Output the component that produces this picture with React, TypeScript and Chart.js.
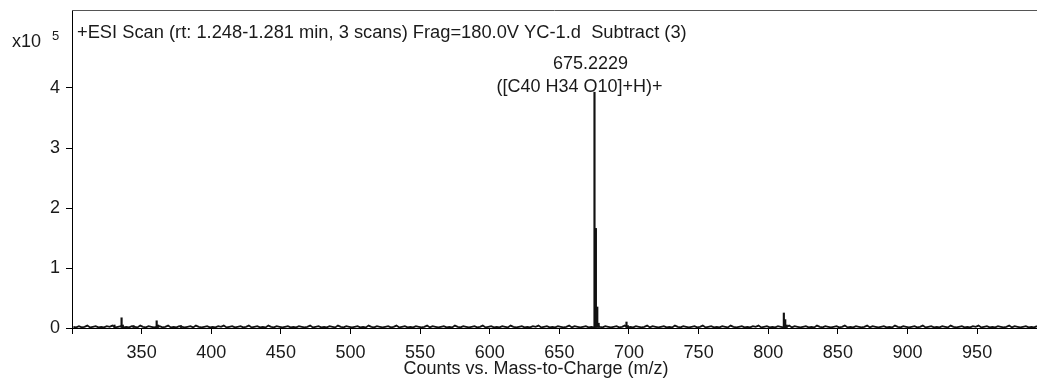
import React, { useEffect, useRef } from "react";
import { Chart, registerables } from "chart.js";

Chart.register(...registerables);

const titleText = "+ESI Scan (rt: 1.248-1.281 min, 3 scans) Frag=180.0V YC-1.d  Subtract (3)";
const xAxisTitle = "Counts vs. Mass-to-Charge (m/z)";
const peakLabel1 = "675.2229";
const peakLabel2 = "([C40 H34 O10]+H)+";
const yScaleText = "x10";
const yExponent = "5";

const xTicks = [300, 350, 400, 450, 500, 550, 600, 650, 700, 750, 800, 850, 900, 950];
const yTicks = [0, 1, 2, 3, 4];

// main peaks (m/z, intensity in 1e5 counts)
const peakMz = [330.5, 335.6, 336.5, 344.2, 360.8, 361.8, 378.3, 675.22, 676.22, 677.22, 678.2, 698.2, 699.2, 811.2, 812.2, 813.2];
const peakInt = [0.05, 0.17, 0.05, 0.04, 0.12, 0.05, 0.04, 3.93, 1.66, 0.35, 0.08, 0.1, 0.04, 0.25, 0.14, 0.05];

// baseline noise, one value every 2 m/z starting at 301
const noiseStart = 301;
const noiseStep = 2;
const noiseInt = [
  0.02, 0.01, 0.03, 0.01, 0.02, 0.04, 0.01, 0.02, 0.03, 0.01, 0.02, 0.01, 0.03, 0.02, 0.04, 0.01, 0.02, 0.03, 0.01, 0.02,
  0.01, 0.03, 0.02, 0.01, 0.04, 0.02, 0.01, 0.03, 0.02, 0.01, 0.02, 0.03, 0.01, 0.02, 0.04, 0.01, 0.02, 0.01, 0.03, 0.02,
  0.01, 0.02, 0.03, 0.01, 0.04, 0.02, 0.01, 0.02, 0.03, 0.01, 0.02, 0.01, 0.03, 0.02, 0.04, 0.01, 0.02, 0.03, 0.01, 0.02,
  0.03, 0.01, 0.02, 0.04, 0.01, 0.02, 0.03, 0.01, 0.02, 0.01, 0.04, 0.02, 0.01, 0.03, 0.02, 0.01, 0.02, 0.03, 0.01, 0.02,
  0.01, 0.03, 0.02, 0.01, 0.02, 0.04, 0.01, 0.02, 0.03, 0.01, 0.02, 0.01, 0.03, 0.02, 0.01, 0.04, 0.02, 0.01, 0.03, 0.02,
  0.01, 0.02, 0.03, 0.01, 0.02, 0.01, 0.04, 0.02, 0.01, 0.03, 0.02, 0.01, 0.02, 0.03, 0.01, 0.02, 0.04, 0.01, 0.02, 0.03,
  0.01, 0.02, 0.01, 0.03, 0.02, 0.01, 0.02, 0.04, 0.01, 0.03, 0.02, 0.01, 0.02, 0.03, 0.01, 0.02, 0.01, 0.04, 0.02, 0.01,
  0.03, 0.02, 0.01, 0.02, 0.03, 0.01, 0.02, 0.04, 0.01, 0.02, 0.03, 0.01, 0.02, 0.01, 0.03, 0.02, 0.01, 0.04, 0.02, 0.01,
  0.02, 0.03, 0.01, 0.02, 0.01, 0.03, 0.02, 0.04, 0.01, 0.02, 0.03, 0.01, 0.02, 0.01, 0.03, 0.02, 0.01, 0.02, 0.04, 0.01,
  0.03, 0.02, 0.01, 0.02, 0.03, 0.01, 0.02, 0.01, 0.04, 0.02, 0.01, 0.03, 0.02, 0.01, 0.02, 0.03, 0.01, 0.02, 0.04, 0.01,
  0.02, 0.01, 0.03, 0.02, 0.01, 0.02, 0.04, 0.01, 0.03, 0.02, 0.01, 0.02, 0.03, 0.01, 0.02, 0.01, 0.04, 0.02, 0.01, 0.03,
  0.02, 0.01, 0.02, 0.03, 0.01, 0.02, 0.04, 0.01, 0.02, 0.03, 0.01, 0.02, 0.01, 0.03, 0.02, 0.01, 0.04, 0.02, 0.01, 0.02,
  0.03, 0.01, 0.02, 0.01, 0.03, 0.02, 0.04, 0.01, 0.02, 0.03, 0.01, 0.02, 0.01, 0.03, 0.02, 0.01, 0.02, 0.04, 0.01, 0.03,
  0.02, 0.01, 0.02, 0.03, 0.01, 0.02, 0.01, 0.04, 0.02, 0.01, 0.03, 0.02, 0.01, 0.02, 0.03, 0.01, 0.02, 0.04, 0.01, 0.02,
  0.01, 0.03, 0.02, 0.01, 0.02, 0.04, 0.01, 0.03, 0.02, 0.01, 0.02, 0.03, 0.01, 0.02, 0.01, 0.04, 0.02, 0.01, 0.03, 0.02,
  0.01, 0.02, 0.03, 0.01, 0.02, 0.04, 0.01, 0.02, 0.03, 0.01, 0.02, 0.01, 0.03, 0.02, 0.01, 0.04, 0.02, 0.01, 0.02, 0.03,
  0.01, 0.02, 0.01, 0.03, 0.02, 0.04, 0.01, 0.02, 0.03, 0.01, 0.02, 0.01, 0.03, 0.02, 0.01, 0.02, 0.04, 0.01, 0.03, 0.02,
  0.01, 0.02, 0.03, 0.01, 0.02, 0.01, 0.03,
];

const X_MIN = 300;
const X_MAX = 993;
const Y_MIN = 0;
const Y_MAX = 5.3;
const TEXT_COLOR = "#1a1a1a";
const FONT = "'Liberation Sans', Arial, sans-serif";

export default function App() {
  const ref = useRef<HTMLCanvasElement | null>(null);

  useEffect(() => {
    document.body.style.margin = "0";
    const canvas = ref.current;
    if (!canvas) return;

    const noiseData = noiseInt.map((v, i) => ({ x: noiseStart + i * noiseStep, y: v }));
    const peakData = peakMz.map((m, i) => ({ x: m, y: peakInt[i] }));

    const textPlugin = {
      id: "msText",
      afterDraw(chart: any) {
        const { ctx, chartArea, scales } = chart;
        const x = scales.x;
        ctx.save();
        // top border
        ctx.strokeStyle = "#555";
        ctx.lineWidth = 1;
        ctx.beginPath();
        ctx.moveTo(chartArea.left, chartArea.top + 0.5);
        ctx.lineTo(chart.width, chartArea.top + 0.5);
        ctx.stroke();

        ctx.fillStyle = TEXT_COLOR;
        ctx.textBaseline = "middle";
        ctx.font = `18.3px ${FONT}`;
        ctx.textAlign = "left";
        ctx.fillText(titleText, chartArea.left + 5, 33);
        ctx.font = `18px ${FONT}`;
        ctx.fillText(yScaleText, 12, 42);
        ctx.font = `13px ${FONT}`;
        ctx.fillText(yExponent, 52, 36);

        ctx.font = `18px ${FONT}`;
        ctx.textAlign = "center";
        const px = x.getPixelForValue(peakMz[7]);
        ctx.fillText(peakLabel1, px - 4, 64);
        ctx.fillText(peakLabel2, px - 15, 87);
        ctx.fillText(xAxisTitle, 536, 369);
        ctx.restore();
      },
    };

    const chart = new Chart(canvas, {
      type: "bar",
      data: {
        datasets: [
          {
            type: "line",
            data: noiseData,
            borderColor: "#111",
            borderWidth: 1.8,
            pointRadius: 0,
            tension: 0,
            fill: false,
          },
          {
            data: peakData,
            backgroundColor: "#111",
            barThickness: 1.5,
          },
        ],
      },
      options: {
        animation: false,
        responsive: false,
        maintainAspectRatio: false,
        layout: { padding: { top: 10, right: 0, left: 0, bottom: 0 } },
        plugins: { legend: { display: false }, tooltip: { enabled: false } },
        datasets: { bar: { grouped: false } },
        scales: {
          x: {
            type: "linear",
            min: X_MIN,
            max: X_MAX,
            offset: false,
            afterBuildTicks: (axis: any) => {
              axis.ticks = xTicks.map((v) => ({ value: v }));
            },
            afterFit: (axis: any) => {
              axis.height = 56;
              axis.paddingLeft = 0;
              axis.paddingRight = 0;
            },
            ticks: {
              color: TEXT_COLOR,
              font: { family: FONT, size: 18 },
              padding: 8,
              maxRotation: 0,
              autoSkip: false,
              callback: (v: any) => (v === 300 ? "" : String(v)),
            },
            grid: {
              offset: false,
              drawOnChartArea: false,
              drawTicks: true,
              tickLength: 6,
              color: "#000",
              lineWidth: 1,
            },
            border: { display: true, color: "#000", width: 1 },
          },
          y: {
            type: "linear",
            min: Y_MIN,
            max: Y_MAX,
            afterBuildTicks: (axis: any) => {
              axis.ticks = yTicks.map((v) => ({ value: v }));
            },
            afterFit: (axis: any) => {
              axis.width = 72;
              axis.paddingTop = 0;
              axis.paddingBottom = 0;
            },
            ticks: {
              color: TEXT_COLOR,
              font: { family: FONT, size: 18 },
              padding: 6,
              autoSkip: false,
              callback: (v: any) => String(v),
            },
            grid: {
              drawOnChartArea: false,
              drawTicks: true,
              tickLength: 6,
              color: "#000",
              lineWidth: 1,
            },
            border: { display: true, color: "#000", width: 1 },
          },
        },
      },
      plugins: [textPlugin],
    } as any);

    return () => chart.destroy();
  }, []);

  return (
    <div style={{ position: "absolute", left: 0, top: 0, width: 1037, height: 384, background: "#fff" }}>
      <canvas ref={ref} width={1037} height={384} style={{ width: 1037, height: 384 }} />
    </div>
  );
}
